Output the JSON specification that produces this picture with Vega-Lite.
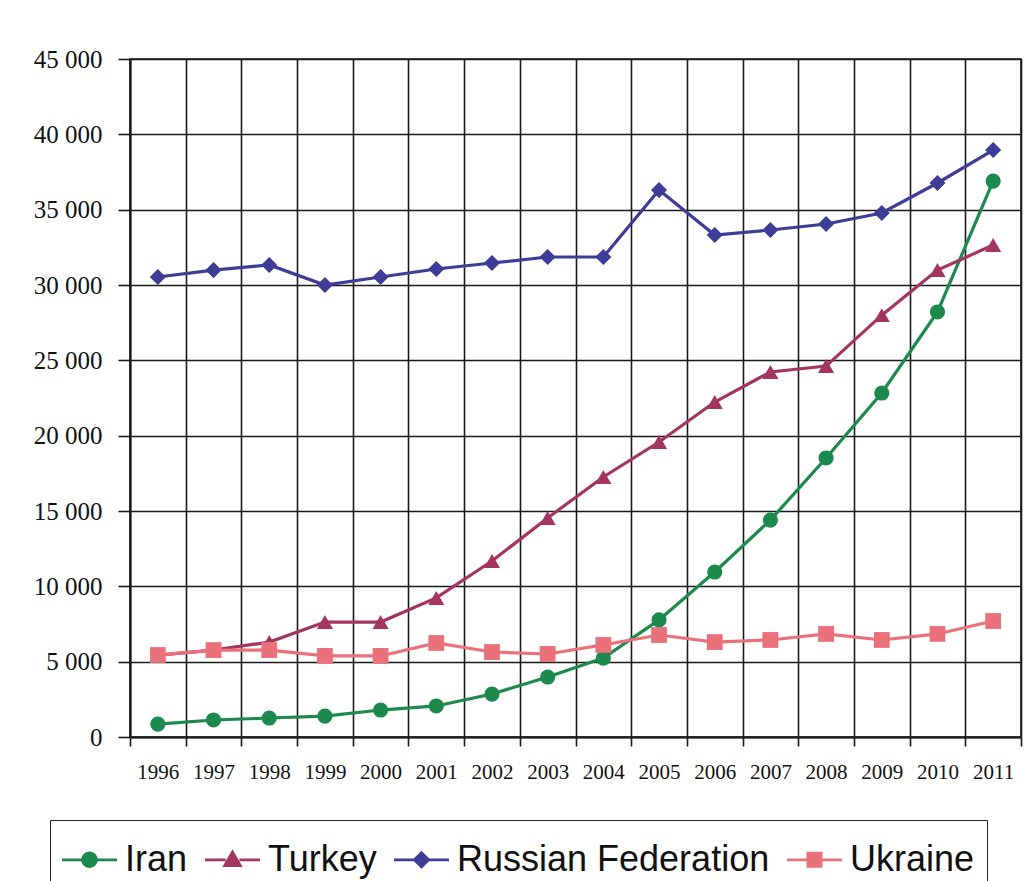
{
  "$schema": "https://vega.github.io/schema/vega-lite/v6.json",
  "width": 891,
  "height": 678,
  "autosize": "none",
  "padding": {"left": 130, "top": 59, "right": 7, "bottom": 144},
  "background": "white",
  "data": {"values": [
    {"year": "1996", "country": "Iran", "value": 860},
    {"year": "1997", "country": "Iran", "value": 1130},
    {"year": "1998", "country": "Iran", "value": 1260},
    {"year": "1999", "country": "Iran", "value": 1390},
    {"year": "2000", "country": "Iran", "value": 1790},
    {"year": "2001", "country": "Iran", "value": 2060},
    {"year": "2002", "country": "Iran", "value": 2850},
    {"year": "2003", "country": "Iran", "value": 3980},
    {"year": "2004", "country": "Iran", "value": 5240},
    {"year": "2005", "country": "Iran", "value": 7770},
    {"year": "2006", "country": "Iran", "value": 10950},
    {"year": "2007", "country": "Iran", "value": 14400},
    {"year": "2008", "country": "Iran", "value": 18520},
    {"year": "2009", "country": "Iran", "value": 22830},
    {"year": "2010", "country": "Iran", "value": 28210},
    {"year": "2011", "country": "Iran", "value": 36900},
    {"year": "1996", "country": "Turkey", "value": 5440},
    {"year": "1997", "country": "Turkey", "value": 5770},
    {"year": "1998", "country": "Turkey", "value": 6300},
    {"year": "1999", "country": "Turkey", "value": 7630},
    {"year": "2000", "country": "Turkey", "value": 7630},
    {"year": "2001", "country": "Turkey", "value": 9230},
    {"year": "2002", "country": "Turkey", "value": 11680},
    {"year": "2003", "country": "Turkey", "value": 14540},
    {"year": "2004", "country": "Turkey", "value": 17260},
    {"year": "2005", "country": "Turkey", "value": 19580},
    {"year": "2006", "country": "Turkey", "value": 22230},
    {"year": "2007", "country": "Turkey", "value": 24230},
    {"year": "2008", "country": "Turkey", "value": 24620},
    {"year": "2009", "country": "Turkey", "value": 28000},
    {"year": "2010", "country": "Turkey", "value": 30990},
    {"year": "2011", "country": "Turkey", "value": 32650},
    {"year": "1996", "country": "Russian Federation", "value": 30530},
    {"year": "1997", "country": "Russian Federation", "value": 30990},
    {"year": "1998", "country": "Russian Federation", "value": 31330},
    {"year": "1999", "country": "Russian Federation", "value": 30000},
    {"year": "2000", "country": "Russian Federation", "value": 30530},
    {"year": "2001", "country": "Russian Federation", "value": 31060},
    {"year": "2002", "country": "Russian Federation", "value": 31460},
    {"year": "2003", "country": "Russian Federation", "value": 31860},
    {"year": "2004", "country": "Russian Federation", "value": 31860},
    {"year": "2005", "country": "Russian Federation", "value": 36300},
    {"year": "2006", "country": "Russian Federation", "value": 33320},
    {"year": "2007", "country": "Russian Federation", "value": 33650},
    {"year": "2008", "country": "Russian Federation", "value": 34050},
    {"year": "2009", "country": "Russian Federation", "value": 34780},
    {"year": "2010", "country": "Russian Federation", "value": 36770},
    {"year": "2011", "country": "Russian Federation", "value": 38960},
    {"year": "1996", "country": "Ukraine", "value": 5440},
    {"year": "1997", "country": "Ukraine", "value": 5770},
    {"year": "1998", "country": "Ukraine", "value": 5770},
    {"year": "1999", "country": "Ukraine", "value": 5380},
    {"year": "2000", "country": "Ukraine", "value": 5380},
    {"year": "2001", "country": "Ukraine", "value": 6240},
    {"year": "2002", "country": "Ukraine", "value": 5640},
    {"year": "2003", "country": "Ukraine", "value": 5510},
    {"year": "2004", "country": "Ukraine", "value": 6110},
    {"year": "2005", "country": "Ukraine", "value": 6770},
    {"year": "2006", "country": "Ukraine", "value": 6300},
    {"year": "2007", "country": "Ukraine", "value": 6440},
    {"year": "2008", "country": "Ukraine", "value": 6840},
    {"year": "2009", "country": "Ukraine", "value": 6440},
    {"year": "2010", "country": "Ukraine", "value": 6840},
    {"year": "2011", "country": "Ukraine", "value": 7700}
  ]},
  "encoding": {
    "x": {
      "field": "year", "type": "ordinal", "bandPosition": 0.5,
      "scale": {"type": "band", "paddingInner": 0, "paddingOuter": 0},
      "axis": {
        "title": null, "tickBand": "extent", "labelAngle": 0,
        "grid": true, "gridColor": "#1a1a1a", "gridWidth": 1.6, "gridOpacity": 1,
        "domain": true, "domainColor": "#1a1a1a", "domainWidth": 2,
        "tickColor": "#1a1a1a", "tickWidth": 1.6, "tickSize": 9,
        "labelFont": "Liberation Serif", "labelFontSize": 21, "labelColor": "#111",
        "labelPadding": 15
      }
    },
    "y": {
      "field": "value", "type": "quantitative",
      "scale": {"domain": [0, 45000], "nice": false},
      "axis": {
        "title": null, "values": [0, 5000, 10000, 15000, 20000, 25000, 30000, 35000, 40000, 45000],
        "labelExpr": "replace(format(datum.value, ','), ',', ' ')",
        "grid": true, "gridColor": "#1a1a1a", "gridWidth": 1.6, "gridOpacity": 1,
        "domain": true, "domainColor": "#1a1a1a", "domainWidth": 2,
        "tickColor": "#1a1a1a", "tickWidth": 1.6, "tickSize": 12,
        "labelFont": "Liberation Serif", "labelFontSize": 25, "labelColor": "#111",
        "labelPadding": 16
      }
    },
    "color": {
      "field": "country", "type": "nominal",
      "scale": {
        "domain": ["Iran", "Turkey", "Russian Federation", "Ukraine"],
        "range": ["#1b8a4c", "#a3355f", "#3d3c96", "#ea7179"]
      },
      "legend": {
        "title": null, "orient": "none", "direction": "horizontal",
        "legendX": -80, "legendY": 761,
        "strokeColor": "#222", "padding": 12,
        "symbolSize": 3025, "symbolStrokeWidth": 0,
        "labelFont": "Liberation Sans", "labelFontSize": 36, "labelColor": "#111",
        "labelOffset": 8, "columnPadding": 17, "labelLimit": 600,
        "encode": {
          "symbols": {
            "update": {
              "shape": {"signal": "datum.value == 'Iran' ? 'M-1,-0.05H-0.25V0.05H-1Z M0.25,-0.05H1V0.05H0.25Z M0.3,0A0.3,0.3,0,1,1,-0.3,0A0.3,0.3,0,1,1,0.3,0Z' : datum.value == 'Turkey' ? 'M-1,-0.05H-0.25V0.05H-1Z M0.25,-0.05H1V0.05H0.25Z M0,-0.38L0.37,0.26L-0.37,0.26Z' : datum.value == 'Russian Federation' ? 'M-1,-0.05H-0.25V0.05H-1Z M0.25,-0.05H1V0.05H0.25Z M0,-0.33L0.33,0L0,0.33L-0.33,0Z' : 'M-1,-0.05H-0.25V0.05H-1Z M0.25,-0.05H1V0.05H0.25Z M-0.29,-0.29H0.29V0.29H-0.29Z'"},
              "fill": {"scale": "color", "field": "value"},
              "fillOpacity": {"value": 1},
              "strokeWidth": {"value": 0}
            }
          }
        }
      }
    }
  },
  "layer": [
    {"mark": {"type": "line", "strokeWidth": 3.2}},
    {
      "transform": [{"filter": "datum.country == 'Iran'"}],
      "mark": {"type": "point", "shape": "circle", "filled": true, "opacity": 1, "size": 230}
    },
    {
      "transform": [{"filter": "datum.country == 'Turkey'"}],
      "mark": {"type": "point", "shape": "triangle-up", "filled": true, "opacity": 1, "size": 260}
    },
    {
      "transform": [{"filter": "datum.country == 'Russian Federation'"}],
      "mark": {"type": "point", "shape": "diamond", "filled": true, "opacity": 1, "size": 260}
    },
    {
      "transform": [{"filter": "datum.country == 'Ukraine'"}],
      "mark": {"type": "point", "shape": "square", "filled": true, "opacity": 1, "size": 250}
    }
  ],
  "config": {
    "view": {"stroke": "#1a1a1a", "strokeWidth": 1.6}
  }
}
